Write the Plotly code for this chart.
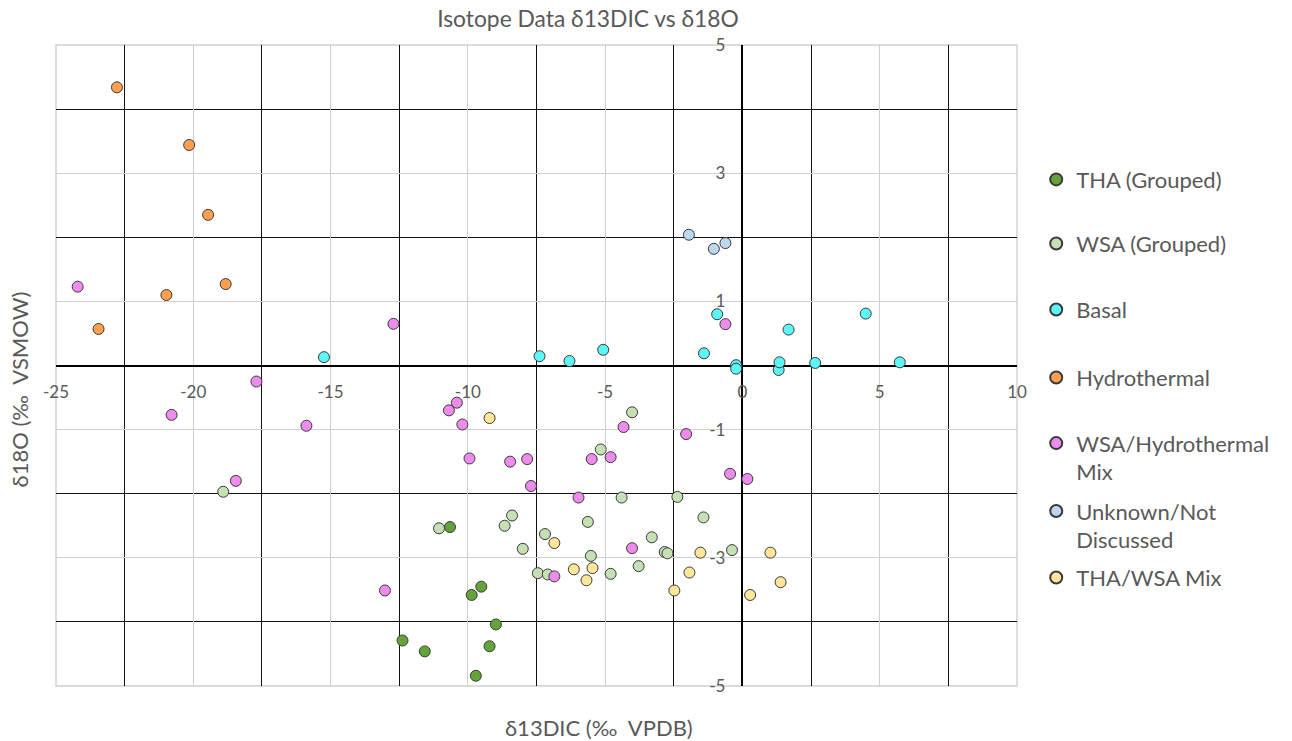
import plotly.graph_objects as go

# ---- data ----
series_names = ["THA (Grouped)", "WSA (Grouped)", "Basal", "Hydrothermal",
                "WSA/Hydrothermal<br>Mix", "Unknown/Not<br>Discussed", "THA/WSA Mix"]

tha_x = [-10.65, -12.38, -11.57, -9.86, -9.51, -8.98, -9.21, -9.71]
tha_y = [-2.52, -4.29, -4.46, -3.58, -3.45, -4.04, -4.38, -4.84]

wsa_x = [-18.91, -11.05, -8.39, -8.66, -8.00, -7.19, -7.45, -7.09, -5.63, -5.52, -5.16,
         -4.80, -4.40, -4.02, -3.78, -3.30, -2.83, -2.73, -2.37, -1.42, -0.38]
wsa_y = [-1.97, -2.54, -2.34, -2.50, -2.86, -2.63, -3.24, -3.26, -2.44, -2.97, -1.31,
         -3.25, -2.06, -0.73, -3.13, -2.68, -2.91, -2.93, -2.05, -2.37, -2.88]

basal_x = [-15.24, -7.39, -6.30, -5.07, -1.40, -0.92, -0.23, -0.23, 1.32, 1.35, 1.68, 2.65, 4.49, 5.73]
basal_y = [0.13, 0.145, 0.07, 0.245, 0.19, 0.80, 0.005, -0.05, -0.07, 0.05, 0.56, 0.04, 0.81, 0.05]

hydro_x = [-22.78, -20.15, -19.46, -20.98, -18.82, -23.45]
hydro_y = [4.34, 3.44, 2.35, 1.10, 1.27, 0.57]

mixwh_x = [-24.21, -12.71, -17.70, -20.79, -15.88, -18.45, -13.02, -10.40, -10.69, -10.20, -9.94,
           -8.46, -7.84, -7.70, -5.97, -5.49, -4.80, -4.33, -4.02, -6.85, -2.05, -0.45, 0.18, -0.62]
mixwh_y = [1.23, 0.65, -0.25, -0.77, -0.94, -1.80, -3.51, -0.58, -0.70, -0.92, -1.45,
           -1.50, -1.46, -1.88, -2.06, -1.46, -1.43, -0.96, -2.85, -3.29, -1.07, -1.69, -1.77, 0.645]

unk_x = [-1.95, -1.04, -0.62]
unk_y = [2.04, 1.82, 1.91]

mixtw_x = [-9.21, -6.85, -6.14, -5.46, -5.68, -2.48, -1.93, -1.53, 1.02, 1.39, 0.28]
mixtw_y = [-0.82, -2.77, -3.18, -3.16, -3.35, -3.51, -3.23, -2.92, -2.92, -3.38, -3.58]

x_ticks = [-25, -20, -15, -10, -5, 0, 5, 10]
y_ticks = [-5, -3, -1, 1, 3, 5]

# ---- styling ----
colors = ["#64A23A", "#C5E0B4", "#5CF6F6", "#FF9F4F", "#EE8CEE", "#BDD7EE", "#FFE699"]
legend_y = [0.790, 0.690, 0.587, 0.481, 0.356, 0.250, 0.169]
FONT = "Lato"
GREY = "#595959"

data = [(tha_x, tha_y), (wsa_x, wsa_y), (basal_x, basal_y), (hydro_x, hydro_y),
        (mixwh_x, mixwh_y), (unk_x, unk_y), (mixtw_x, mixtw_y)]

fig = go.Figure()
legend_layouts = {}
for i, ((xs, ys), name, col) in enumerate(zip(data, series_names, colors)):
    lg = "legend" if i == 0 else f"legend{i+1}"
    fig.add_trace(go.Scatter(
        x=xs, y=ys, mode="markers", name=name, legend=lg,
        marker=dict(size=11, color=col, line=dict(color="#3A3A3A", width=1)),
    ))
    legend_layouts[lg] = dict(
        x=1.0200, xanchor="left", y=legend_y[i], yanchor="middle",
        bgcolor="rgba(0,0,0,0)", valign="top", itemsizing="constant",
        font=dict(family=FONT, size=22, color=GREY), itemwidth=30,
    )

fig.update_layout(
    width=1292, height=741,
    margin=dict(l=56, r=275, t=45, b=55),
    paper_bgcolor="white", plot_bgcolor="white",
    showlegend=True,
    title=dict(text="Isotope Data δ13DIC vs δ18O", x=0.5536, xref="paper", xanchor="center",
               y=1 - 19 / 741, yref="container", yanchor="middle",
               font=dict(family=FONT, size=22.8, color=GREY)),
    xaxis=dict(range=[-25, 10], tickmode="array", tickvals=x_ticks,
               ticktext=[str(v) for v in x_ticks],
               showgrid=True, gridcolor="#CFCFCF", gridwidth=1.4,
               minor=dict(tickmode="array", tickvals=[-22.5, -17.5, -12.5, -7.5, -2.5, 2.5, 7.5],
                          showgrid=True, gridcolor="#111111", gridwidth=1.2),
               zeroline=True, zerolinecolor="black", zerolinewidth=2,
               anchor="free", position=0.5, ticks="", ticklabelstandoff=14,
               showline=False,
               tickfont=dict(family=FONT, size=17, color=GREY)),
    yaxis=dict(range=[-5, 5], tickmode="array", tickvals=y_ticks,
               ticktext=[str(v) for v in y_ticks],
               showgrid=True, gridcolor="#CFCFCF", gridwidth=1.4,
               minor=dict(tickmode="array", tickvals=[-4, -2, 2, 4],
                          showgrid=True, gridcolor="#111111", gridwidth=1.2),
               zeroline=True, zerolinecolor="black", zerolinewidth=2,
               anchor="free", position=25 / 35, ticks="", ticklabelstandoff=17,
               showline=False,
               tickfont=dict(family=FONT, size=17, color=GREY)),
    shapes=[dict(type="rect", xref="paper", yref="paper", x0=0, x1=1, y0=0, y1=1,
                 line=dict(color="#CFCFCF", width=1.4), layer="below")],
    annotations=[
        dict(text="δ13DIC (‰  VPDB)", xref="paper", yref="paper", x=0.565, y=-0.0655,
             xanchor="center", yanchor="middle", showarrow=False,
             font=dict(family=FONT, size=22, color=GREY)),
        dict(text="δ18O (‰  VSMOW)", xref="paper", yref="paper", x=-0.0385, y=0.4626,
             xanchor="center", yanchor="middle", showarrow=False, textangle=-90,
             font=dict(family=FONT, size=22, color=GREY)),
    ],
    **legend_layouts,
)

fig.write_html("out.html")
